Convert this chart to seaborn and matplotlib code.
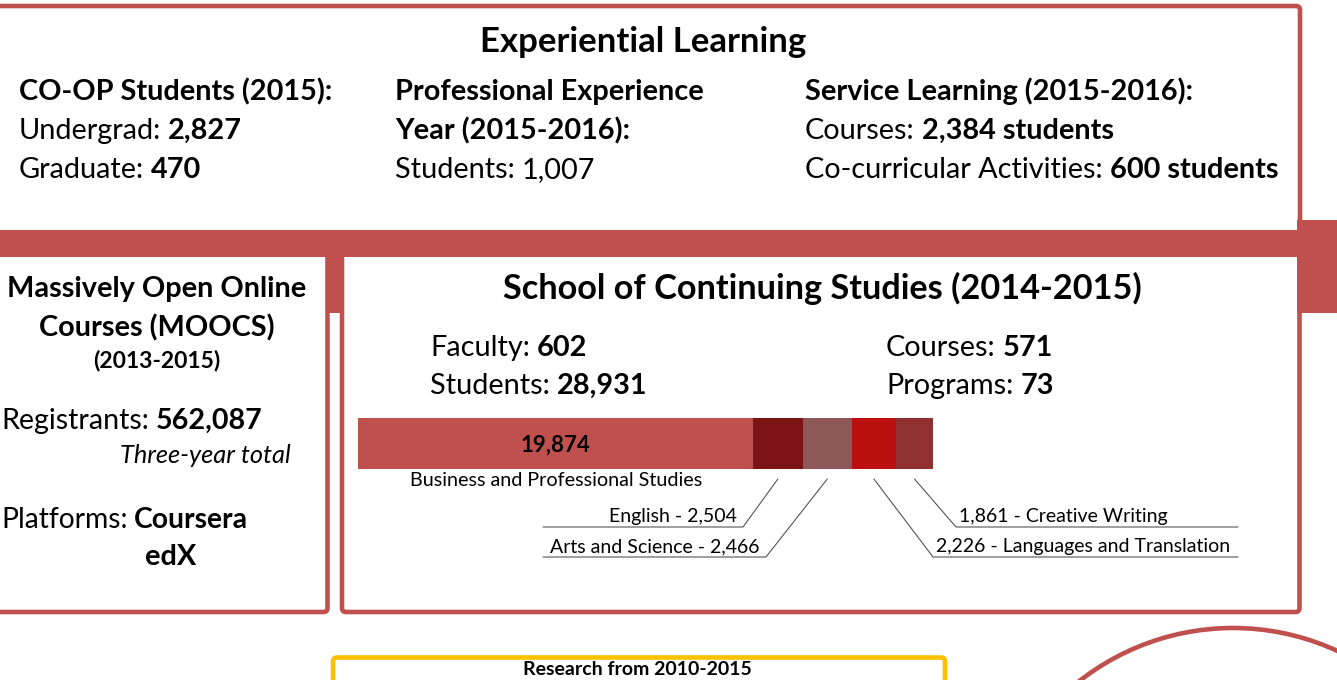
import matplotlib
matplotlib.use('Agg')
import matplotlib.pyplot as plt
import seaborn as sns
import numpy as np
import pandas as pd
from matplotlib.patches import FancyBboxPatch, Rectangle, Circle

coop_undergrad = '2,827'
coop_graduate = '470'
pey_students = '1,007'
service_courses = '2,384 students'
service_cocurricular = '600 students'
mooc_registrants = '562,087'
mooc_platforms = ['Coursera', 'edX']
scs_faculty = '602'
scs_students = '28,931'
scs_courses = '571'
scs_programs = '73'

programs = ['Business and Professional Studies', 'English', 'Arts and Science',
            'Languages and Translation', 'Creative Writing']
program_students = [19874, 2504, 2466, 2226, 1861]
program_colors = ['#C0504D', '#7D1414', '#8E5858', '#BC1010', '#913030']

W, H = 1337, 680
RED = '#C0504D'
YELLOW = '#FFC000'

sns.set_style('white')
plt.rcParams['font.family'] = ['Lato', 'DejaVu Sans']
plt.rcParams['text.color'] = 'black'

fig = plt.figure(figsize=(W / 100, H / 100), dpi=100)
ax = fig.add_axes([0, 0, 1, 1])
ax.set_xlim(0, W)
ax.set_ylim(H, 0)
ax.axis('off')

# ---- frame shapes ----
def box(x0, y0, x1, y1, color=RED, lw=3.3):
    ax.add_patch(FancyBboxPatch((x0, y0), x1 - x0, y1 - y0,
                                boxstyle='round,pad=0,rounding_size=4',
                                fc='white', ec=color, lw=lw, zorder=2))

box(-10, 6, 1300, 235)
ax.add_patch(Rectangle((1297, 220), 40, 93, fc=RED, ec='none', zorder=3))
ax.add_patch(Rectangle((325, 250), 20, 63, fc=RED, ec='none', zorder=1))
box(-10, 250, 327.5, 612)
box(342, 250, 1299.5, 612)
ax.add_patch(Rectangle((0, 230), W, 27, fc=RED, ec='none', zorder=3))
box(333, 657.5, 945, 720, color=YELLOW)
ax.add_patch(Circle((1233, 877), 249, fc='none', ec=RED, lw=3.3, zorder=2))

fig.canvas.draw()
renderer = fig.canvas.get_renderer()


def runs(x, y, parts, size):
    # parts: (text, weight, style); drawn one after another on a baseline
    for s, weight, style in parts:
        t = ax.text(x, y, s, fontsize=size, fontweight=weight, fontstyle=style,
                    ha='left', va='baseline', zorder=5)
        x += t.get_window_extent(renderer).width + 0.24 * size * 100 / 72


N = ('normal', 'normal')
B = ('bold', 'normal')

# ---- Experiential Learning ----
ax.text(643, 52, 'Experiential Learning', fontsize=25, fontweight='bold',
        ha='center', va='baseline', zorder=5)
fs = 20.8
runs(19, 100, [('CO-OP Students (2015):', *B)], fs)
runs(19, 139, [('Undergrad:', *N), (coop_undergrad, *B)], fs)
runs(19, 178, [('Graduate:', *N), (coop_graduate, *B)], fs)
runs(395, 100, [('Professional Experience', *B)], fs)
runs(395, 139, [('Year (2015-2016):', *B)], fs)
runs(395, 178, [('Students:', *N), (pey_students, *N)], fs)
runs(805, 100, [('Service Learning (2015-2016):', *B)], fs)
runs(805, 139, [('Courses:', *N), (service_courses, *B)], fs)
runs(805, 178, [('Co-curricular Activities:', *N), (service_cocurricular, *B)], fs)

# ---- MOOCs ----
ax.text(157, 297, 'Massively Open Online', fontsize=fs, fontweight='bold',
        ha='center', va='baseline', zorder=5)
ax.text(157, 336, 'Courses (MOOCS)', fontsize=fs, fontweight='bold',
        ha='center', va='baseline', zorder=5)
ax.text(157, 367, '(2013-2015)', fontsize=16.5, fontweight='bold',
        ha='center', va='baseline', zorder=5)
runs(1, 429, [('Registrants:', *N), (mooc_registrants, *B)], 20.6)
ax.text(291, 463, 'Three-year total', fontsize=18.3, fontstyle='italic',
        ha='right', va='baseline', zorder=5)
runs(1, 528, [('Platforms:', *N), (mooc_platforms[0], *B)], 20.3)
ax.text(171, 565, mooc_platforms[1], fontsize=fs, fontweight='bold',
        ha='center', va='baseline', zorder=5)

# ---- School of Continuing Studies ----
ax.text(822, 299, 'School of Continuing Studies (2014-2015)', fontsize=24.7,
        fontweight='bold', ha='center', va='baseline', zorder=5)
runs(430, 356, [('Faculty:', *N), (scs_faculty, *B)], 20.8)
runs(430, 394, [('Students:', *N), (scs_students, *B)], 20.8)
runs(886, 356, [('Courses:', *N), (scs_courses, *B)], 20.8)
runs(886, 394, [('Programs:', *N), (scs_programs, *B)], 20.8)

# stacked bar of students by program
bx0, bx1, by0, by1 = 358, 933, 418, 469
total = sum(program_students)
bar_ax = fig.add_axes([bx0 / W, 1 - by1 / H, (bx1 - bx0) / W, (by1 - by0) / H])
cum = np.cumsum(program_students)
bars = pd.DataFrame({'program': programs, 'end': cum, 'row': 'SCS'})
for i in reversed(range(len(programs))):
    sns.barplot(data=bars.iloc[[i]], x='end', y='row', color=program_colors[i],
                saturation=1, width=1, linewidth=0, orient='h', ax=bar_ax)
bar_ax.set_xlim(0, total)
bar_ax.set_ylim(0.5, -0.5)
bar_ax.axis('off')
bar_ax.text(program_students[0] / 2, 0.17, f'{program_students[0]:,}',
            fontsize=16, fontweight='bold', color='black', ha='center', va='baseline')

scale = (bx1 - bx0) / total
starts = cum - np.array(program_students)
centers = bx0 + (starts + np.array(program_students) / 2) * scale

ax.text(556, 486, programs[0], fontsize=14.2, ha='center', va='baseline', zorder=5)

# leader lines: (knee x, knee y, end x, text side)
leaders = [(743, 527, 543, 'left'), (766, 557, 543, 'left'),
           (933, 557, 1238, 'right'), (956, 527, 1238, 'right')]
for k, (kx, ky, ex, side) in zip(range(1, 5), leaders):
    ax.plot([centers[k], kx, ex], [479, ky, ky], color='#555555', lw=0.8, zorder=4)
    if side == 'left':
        ax.text(kx - 6, ky - 5, f'{programs[k]} - {program_students[k]:,}',
                fontsize=14, ha='right', va='baseline', zorder=5)
    else:
        ax.text(kx + 3, ky - 5, f'{program_students[k]:,} - {programs[k]}',
                fontsize=14, ha='left', va='baseline', zorder=5)

# ---- research box (runs off the bottom of the page) ----
ax.text(637, 675, 'Research from 2010-2015', fontsize=14, fontweight='bold',
        ha='center', va='baseline', zorder=5)

fig.savefig('out.png', dpi=100)
